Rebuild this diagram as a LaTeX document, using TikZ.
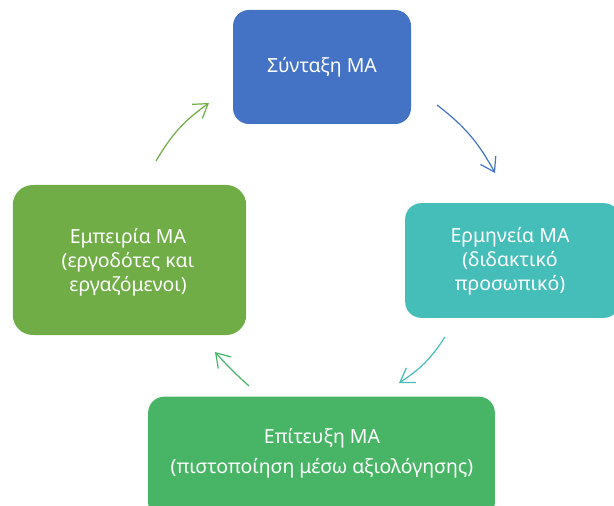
\documentclass[tikz,border=0pt]{standalone}
\usepackage{fontspec}
\setmainfont{Noto Sans}
\usetikzlibrary{arrows.meta}
\definecolor{cblue}{HTML}{4472C4}
\definecolor{cteal}{HTML}{45BEB9}
\definecolor{cgreen}{HTML}{70AD47}
\definecolor{cgreenb}{HTML}{47B565}
\tikzset{
  box/.style={rectangle, rounded corners=12pt, inner sep=0pt, draw=none},
  lbl/.style={text=white, align=center, font=\fontsize{14.6}{18}\selectfont, inner sep=0pt},
  arr/.style={line width=0.9pt, -{Straight Barb[length=10pt,width=13pt,line width=0.9pt]}},
}
\begin{document}
\begin{tikzpicture}[x=0.75pt,y=-0.75pt]
\useasboundingbox (0,0) rectangle (614,506);
\clip (0,0) rectangle (614,506);
\node[box, fill=cblue, minimum width=133.5pt, minimum height=85.5pt] (b1) at (322,67) {};
\node[box, fill=cteal, minimum width=161pt, minimum height=86pt] (b2) at (512.5,260.5) {};
\node[box, fill=cgreen, rounded corners=15pt, minimum width=175pt, minimum height=112.5pt] (b3) at (129.5,260) {};
\node[box, fill=cgreenb, minimum width=260pt, minimum height=92pt] (b4) at (321.5,458) {};
\node[lbl] (t1) at (b1.center) {Σύνταξη ΜΑ};
\node[lbl] (t2) at (510,261) {Ερμηνεία ΜΑ\\(διδακτικό\\προσωπικό)};
\node[lbl] (t3) at (128,262) {Εμπειρία ΜΑ\\(εργοδότες και\\εργαζόμενοι)};
\node[lbl, font=\fontsize{14.6}{22.5}\selectfont] (t4) at (322,453) {Επίτευξη ΜΑ\\(πιστοποίηση μέσω αξιολόγησης)};
\coordinate (a1s) at (437,105); \coordinate (a1e) at (495,173);
\coordinate (a2s) at (445,337); \coordinate (a2e) at (399,383);
\coordinate (a3s) at (249,386); \coordinate (a3e) at (215,352);
\coordinate (a4s) at (156,161); \coordinate (a4e) at (209,103);
\draw[arr, cblue] (a1s) to[bend left=12] (a1e);
\draw[arr, cteal] (a2s) to[bend left=12] (a2e);
\draw[arr, cgreenb] (a3s) to[bend left=3] (a3e);
\draw[arr, cgreen] (a4s) to[bend left=12] (a4e);
\end{tikzpicture}
\end{document}
